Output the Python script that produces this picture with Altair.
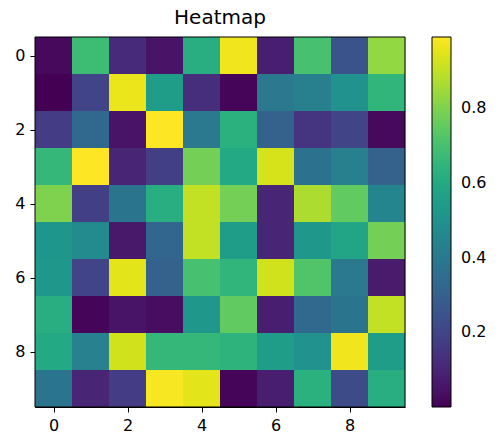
import altair as alt
import pandas as pd

rows = list(range(10))
cols = list(range(10))
values = [
    [0.02, 0.68, 0.12, 0.05, 0.62, 0.97, 0.08, 0.70, 0.25, 0.83],
    [0.00, 0.20, 0.96, 0.55, 0.13, 0.01, 0.40, 0.42, 0.50, 0.65],
    [0.17, 0.33, 0.05, 0.99, 0.40, 0.63, 0.30, 0.15, 0.20, 0.02],
    [0.66, 0.99, 0.10, 0.18, 0.78, 0.60, 0.93, 0.37, 0.42, 0.30],
    [0.80, 0.18, 0.38, 0.62, 0.90, 0.78, 0.10, 0.87, 0.75, 0.45],
    [0.52, 0.47, 0.06, 0.32, 0.90, 0.55, 0.10, 0.53, 0.58, 0.78],
    [0.53, 0.20, 0.95, 0.30, 0.70, 0.65, 0.92, 0.72, 0.40, 0.07],
    [0.62, 0.01, 0.05, 0.03, 0.53, 0.75, 0.08, 0.33, 0.38, 0.90],
    [0.60, 0.43, 0.92, 0.66, 0.66, 0.64, 0.55, 0.50, 0.97, 0.55],
    [0.38, 0.10, 0.17, 0.98, 0.95, 0.01, 0.08, 0.63, 0.22, 0.62],
]

records = []
for r in rows:
    for c in cols:
        records.append({"row": r, "col": c, "r0": r - 0.5, "r1": r + 0.5,
                        "c0": c - 0.5, "c1": c + 0.5, "v": values[r][c]})
df = pd.DataFrame(records)

vmin = min(min(r) for r in values)
vmax = max(max(r) for r in values)

axis_kw = dict(values=[0, 2, 4, 6, 8], title=None, grid=False, format="d",
               domainColor="black", tickColor="black", labelColor="black",
               labelFont="DejaVu Sans", labelFontSize=16, tickSize=5, labelPadding=5)

heat = alt.Chart(df).mark_rect().encode(
    x=alt.X("c0:Q", scale=alt.Scale(domain=[-0.5, 9.5], nice=False, zero=False),
            axis=alt.Axis(**axis_kw)),
    x2="c1:Q",
    y=alt.Y("r0:Q", scale=alt.Scale(domain=[-0.5, 9.5], nice=False, zero=False, reverse=True),
            axis=alt.Axis(**axis_kw)),
    y2="r1:Q",
    color=alt.Color("v:Q", scale=alt.Scale(scheme="viridis", domain=[vmin, vmax]),
                    legend=alt.Legend(title=None, orient="right", gradientLength=370,
                                      gradientThickness=19, offset=27,
                                      values=[0.2, 0.4, 0.6, 0.8], format=".1f",
                                      labelFontSize=16, labelFont="DejaVu Sans",
                                      labelColor="black", gradientStrokeColor="black",
                                      gradientStrokeWidth=1,
                                      labelOffset=10)),
)

frame = alt.Chart(pd.DataFrame({"k": [0]})).mark_rect(
    fill=None, stroke="black", strokeWidth=1
).encode(x=alt.value(0), x2=alt.value(370), y=alt.value(0), y2=alt.value(370))

chart = alt.layer(heat, frame).properties(
    width=370, height=370,
    title=alt.TitleParams("Heatmap", font="DejaVu Sans", fontSize=20, fontWeight="normal",
                          color="black", offset=9),
    autosize=alt.AutoSizeParams(type="none"),
    padding={"left": 35, "top": 37, "right": 95, "bottom": 41},
).configure_view(
    stroke=None
).configure(background="white")

chart.save("out.html", embed_options={"renderer": "svg", "actions": False})
